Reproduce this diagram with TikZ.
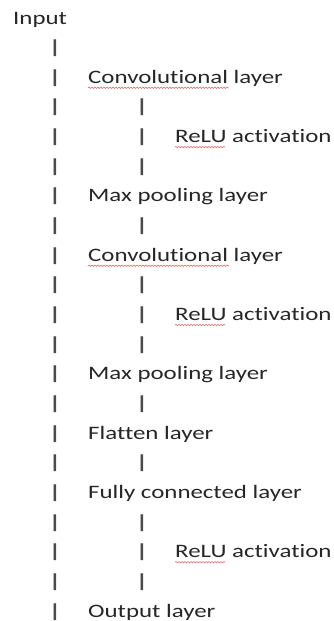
\documentclass[tikz,border=0pt]{standalone}
\usepackage{fontspec}
\setmainfont[FakeStretch=1.31,Ligatures=NoCommon]{Carlito}
\usetikzlibrary{decorations.pathmorphing}
\definecolor{txt}{HTML}{262626}
\definecolor{bartxt}{HTML}{4A4A4A}
\definecolor{spell}{HTML}{E07070}
\tikzset{
  lbl/.style={anchor=base west, inner sep=0pt, text=txt, font=\fontsize{19}{19}\selectfont},
  bar/.style={anchor=base, inner sep=0pt, text=bartxt, font=\fontsize{19}{19}\selectfont},
  squig/.style={draw=spell, line width=0.6pt, decorate, decoration={snake, amplitude=0.7pt, segment length=3pt}}
}
\newcommand{\vbar}{\scalebox{1.5}[1]{|}}
\begin{document}
\begin{tikzpicture}[x=1pt,y=-1pt]
\useasboundingbox (0,0) rectangle (334,621);
\def\rowy#1{24+(#1-1)*29.65}
% main text
\node[lbl] (inp) at (13,{\rowy{1}}) {Input};
\node[lbl] (c1) at (88,{\rowy{3}}) {Convolutional layer};
\node[lbl] (r1) at (175,{\rowy{5}}) {ReLU activation};
\node[lbl] (m1) at (88,{\rowy{7}}) {Max pooling layer};
\node[lbl] (c2) at (88,{\rowy{9}}) {Convolutional layer};
\node[lbl] (r2) at (175,{\rowy{11}}) {ReLU activation};
\node[lbl] (m2) at (88,{\rowy{13}}) {Max pooling layer};
\node[lbl] (fl) at (88,{\rowy{15}}) {Flatten layer};
\node[lbl] (fc) at (88,{\rowy{17}}) {Fully connected layer};
\node[lbl] (r3) at (175,{\rowy{19}}) {ReLU activation};
\node[lbl] (out) at (88,{\rowy{21}}) {Output layer};
% first column of bars
\foreach \k in {2,...,21}
  \node[bar] (a\k) at (55,{\rowy{\k}}) {\vbar};
% second column of bars
\foreach \k in {4,5,6,8,10,11,12,14,16,18,19,20}
  \node[bar] (b\k) at (142,{\rowy{\k}}) {\vbar};
% spell-check underlines
\draw[squig] ([yshift=-4.5pt]c1.base west) -- ++(141,0);
\draw[squig] ([yshift=-4.5pt]c2.base west) -- ++(141,0);
\draw[squig] ([yshift=-4.5pt]r1.base west) -- ++(50,0);
\draw[squig] ([yshift=-4.5pt]r2.base west) -- ++(50,0);
\draw[squig] ([yshift=-4.5pt]r3.base west) -- ++(50,0);
\end{tikzpicture}
\end{document}
